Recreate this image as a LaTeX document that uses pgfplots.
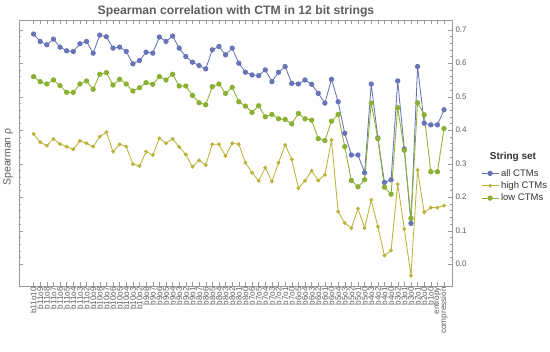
\documentclass[border=0pt]{standalone}
\usepackage{pgfplots}
\pgfplotsset{compat=1.18}
\usepackage{pgfplotstable}
\usepackage{fontspec}
\setmainfont{Liberation Sans}
\setsansfont{Liberation Sans}
\definecolor{cAll}{HTML}{6874B8}
\definecolor{cHigh}{HTML}{BDB23A}
\definecolor{cLow}{HTML}{8CB032}
\definecolor{axgray}{HTML}{9A9A9A}
\definecolor{txtgray}{HTML}{5E5E5E}
\definecolor{legtxt}{HTML}{333333}
\pgfplotstableread{
x all high low
0 0.687 0.389 0.560
1 0.665 0.364 0.545
2 0.655 0.354 0.538
3 0.672 0.374 0.550
4 0.648 0.359 0.533
5 0.637 0.351 0.513
6 0.635 0.343 0.513
7 0.658 0.368 0.538
8 0.665 0.361 0.547
9 0.630 0.351 0.522
10 0.684 0.381 0.567
11 0.679 0.394 0.572
12 0.645 0.336 0.535
13 0.648 0.358 0.552
14 0.635 0.351 0.538
15 0.598 0.299 0.517
16 0.608 0.293 0.527
17 0.633 0.336 0.542
18 0.630 0.326 0.537
19 0.678 0.376 0.560
20 0.665 0.361 0.550
21 0.681 0.374 0.567
22 0.645 0.350 0.532
23 0.620 0.327 0.532
24 0.603 0.291 0.504
25 0.593 0.310 0.482
26 0.583 0.296 0.476
27 0.640 0.358 0.530
28 0.650 0.358 0.538
29 0.625 0.323 0.510
30 0.645 0.361 0.528
31 0.600 0.358 0.485
32 0.573 0.303 0.472
33 0.565 0.273 0.453
34 0.563 0.249 0.473
35 0.580 0.288 0.440
36 0.545 0.247 0.447
37 0.573 0.303 0.434
38 0.590 0.356 0.432
39 0.540 0.313 0.419
40 0.538 0.227 0.450
41 0.550 0.249 0.434
42 0.537 0.279 0.430
43 0.510 0.250 0.375
44 0.481 0.267 0.369
45 0.552 0.371 0.427
46 0.485 0.157 0.447
47 0.391 0.123 0.351
48 0.326 0.108 0.250
49 0.326 0.166 0.231
50 0.273 0.108 0.252
51 0.538 0.192 0.481
52 0.377 0.112 0.375
53 0.244 0.026 0.230
54 0.252 0.041 0.209
55 0.547 0.239 0.467
56 0.344 0.105 0.340
57 0.122 -0.034 0.137
58 0.590 0.281 0.482
59 0.421 0.155 0.446
60 0.416 0.169 0.276
61 0.416 0.169 0.276
62 0.461 0.175 0.405
}\data
\begin{document}
\begin{tikzpicture}
\begin{axis}[
  at={(19pt,66pt)}, anchor=south west,
  scale only axis, width=433pt, height=266pt,
  xmin=-2.2, xmax=63.2, ymin=-0.065, ymax=0.729,
  xtick={0,...,62},
  xticklabels={b11o10,b11o9,b11o8,b11o7,b11o6,b11o5,b11o4,b11o3,b11o2,
    b10o9,b10o8,b10o7,b10o6,b10o5,b10o4,b10o3,b10o2,
    b9o8,b9o7,b9o6,b9o5,b9o4,b9o3,b9o2,b9o1,
    b8o7,b8o6,b8o5,b8o4,b8o3,b8o2,b8o1,b8o0,
    b7o6,b7o5,b7o4,b7o3,b7o2,b7o1,b7o0,
    b6o5,b6o4,b6o3,b6o2,b6o1,b6o0,
    b5o4,b5o3,b5o2,b5o1,b5o0,
    b4o3,b4o2,b4o1,b4o0,
    b3o2,b3o1,b3o0,
    b2o1,b2o0,b1o0,entropy,compression},
  xticklabel style={rotate=90, anchor=east, font=\fontsize{8.2}{8.2}\selectfont, text=txtgray, inner sep=1pt},
  ytick={0,0.1,0.2,0.3,0.4,0.5,0.6,0.7},
  minor y tick num=4,
  yticklabel pos=right,
  /pgf/number format/assume math mode=true,
  yticklabel style={/pgf/number format/.cd, fixed, fixed zerofill, precision=1, /tikz/.cd, font=\fontsize{8}{9}\selectfont, text=txtgray},
  axis line style={axgray},
  every tick/.style={axgray},
  major tick length=4pt, minor tick length=2.2pt,
  legend style={at={(1.06,0.455)}, anchor=north west, draw=none, fill=none,
    font=\fontsize{9.5}{10}\selectfont, text=legtxt, row sep=0pt},
  legend cell align=left,
  clip=false,
]
\addplot[cAll, line width=0.85pt, mark=*, mark size=2.2pt, mark options={solid}] table[x=x,y=all]{\data};
\addlegendentry{all CTMs}
\addplot[cHigh, line width=0.85pt, mark=*, mark size=1.5pt, mark options={solid}] table[x=x,y=high]{\data};
\addlegendentry{high CTMs}
\addplot[cLow, line width=0.85pt, mark=*, mark size=2.2pt, mark options={solid}] table[x=x,y=low]{\data};
\addlegendentry{low CTMs}
\end{axis}
\node[font=\bfseries\fontsize{12.2}{13}\selectfont, text=txtgray] at (236pt,341pt) {Spearman correlation with CTM in 12 bit strings};
\node[rotate=90, font=\fontsize{10.5}{11}\selectfont, text=txtgray] at (8pt,195pt) {Spearman ρ};
\node[font=\bfseries\fontsize{10}{11}\selectfont, text=legtxt] at (513pt,195pt) {String set};
\pgfresetboundingbox
\path (0,0) rectangle (550pt,352pt);
\end{tikzpicture}
\end{document}
